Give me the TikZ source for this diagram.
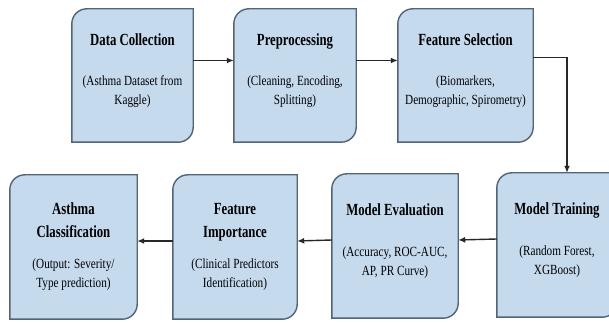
\documentclass[tikz,border=0pt]{standalone}
\usepackage{fontspec}
\setmainfont{Liberation Serif}[FakeStretch=0.8,
  BoldFont={Liberation Serif Bold},BoldFeatures={FakeStretch=0.75}]
\usepackage{tikz}
\usetikzlibrary{arrows.meta,backgrounds}
\definecolor{stagefill}{RGB}{198,218,238}
\definecolor{stageline}{RGB}{82,100,118}
\definecolor{flowline}{RGB}{40,40,40}
\newcommand{\stagetitle}[1]{{\fontsize{17}{19}\selectfont\bfseries #1}}
\newcommand{\raisetext}{\\[-7pt]\mbox{}}

\begin{document}
\begin{tikzpicture}[x=1pt,y=1pt,>=Latex,
  stage/.style={inner sep=0pt,align=center,font=\fontsize{14}{19}\selectfont},
  flow/.style={draw=flowline,line width=1.4pt,-{Latex[length=7pt,width=6pt]}}]
  \useasboundingbox (0,0) rectangle (609,323);
  % Top row
  \node[stage,minimum width=121pt,minimum height=133pt] (dc) at (132.5,247.5)
    {\stagetitle{Data Collection}\\[21pt](Asthma Dataset from\\Kaggle)\raisetext};
  \node[stage,minimum width=122pt,minimum height=133pt] (pp) at (295,247.5)
    {\stagetitle{Preprocessing}\\[21pt](Cleaning, Encoding,\\Splitting)\raisetext};
  \node[stage,minimum width=135pt,minimum height=133pt] (fs) at (465.5,247.5)
    {\stagetitle{Feature Selection}\\[21pt](Biomarkers,\\Demographic, Spirometry)\raisetext};
  % Bottom row
  \node[stage,minimum width=120pt,minimum height=144pt] (mt) at (557,78)
    {\stagetitle{Model Training}\\[22pt](Random Forest,\\XGBoost)\raisetext};
  \node[stage,minimum width=126pt,minimum height=144pt] (me) at (395,77)
    {\stagetitle{Model Evaluation}\\[22pt](Accuracy, ROC-AUC,\\AP, PR Curve)\raisetext};
  \node[stage,minimum width=124pt,minimum height=144pt] (fi) at (235,76)
    {\stagetitle{Feature}\\[4pt]\stagetitle{Importance}\\[12pt](Clinical Predictors\\Identification)};
  \node[stage,minimum width=127pt,minimum height=144pt] (ac) at (73.5,76)
    {\stagetitle{Asthma}\\[4pt]\stagetitle{Classification}\\[12pt](Output: Severity/\\Type prediction)};
  % Box outlines
  \begin{scope}[on background layer]
    \foreach \n in {dc,pp,fs,mt,me,fi,ac}
      \draw[stageline,fill=stagefill,line width=1.4pt]
        (\n.south west) -- ([yshift=-15]\n.north west) arc[start angle=180,end angle=90,radius=15]
        -- (\n.north east) -- ([yshift=15]\n.south east) arc[start angle=0,end angle=-90,radius=15] -- cycle;
  \end{scope}
  % Connectors
  \draw[flow] ([yshift=15]dc.east) -- ([yshift=15]pp.west);
  \draw[flow] ([yshift=15]pp.east) -- ([yshift=15]fs.west);
  \draw[flow] ([yshift=18]fs.east) -| ([xshift=10]mt.north);
  \draw[flow] ([yshift=6]mt.west) -- ([yshift=6]me.east);
  \draw[flow] ([yshift=6]me.west) -- ([yshift=6]fi.east);
  \draw[flow] ([yshift=6]fi.west) -- ([yshift=6]ac.east);
\end{tikzpicture}
\end{document}
